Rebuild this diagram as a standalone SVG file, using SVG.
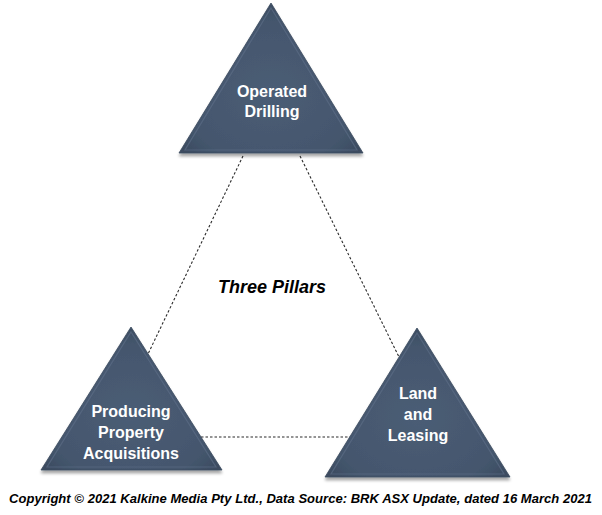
<svg xmlns="http://www.w3.org/2000/svg" width="602" height="515" viewBox="0 0 602 515">
  <defs>
    <radialGradient id="fillG" cx="50%" cy="60%" r="60%">
      <stop offset="0%" stop-color="#4B5D75"/>
      <stop offset="80%" stop-color="#44566D"/>
      <stop offset="100%" stop-color="#3C4C61"/>
    </radialGradient>
    <filter id="sh" x="-10%" y="-10%" width="120%" height="125%">
      <feGaussianBlur in="SourceAlpha" stdDeviation="1.5"/>
      <feOffset dx="0" dy="2.5" result="b"/>
      <feComponentTransfer><feFuncA type="linear" slope="0.35"/></feComponentTransfer>
      <feMerge><feMergeNode/><feMergeNode in="SourceGraphic"/></feMerge>
    </filter>
  </defs>
  <style>
    .tri { fill: url(#fillG); stroke: #3A495D; stroke-width: 0.8; filter: url(#sh); }
    .bevel { fill: none; stroke: #5F7088; stroke-width: 1.2; opacity: 0.6; }
    .lbl { font-family: "Liberation Sans", Arial, sans-serif; font-weight: bold; font-size: 16px; fill: #FFFFFF; text-anchor: middle; }
    .conn { stroke: #2B2B2B; stroke-width: 1.1; stroke-dasharray: 2.5 2; fill: none; }
    .title { font-family: "Liberation Sans", Arial, sans-serif; font-weight: bold; font-style: italic; font-size: 18px; fill: #000000; text-anchor: middle; }
    .copy { font-family: "Liberation Sans", Arial, sans-serif; font-weight: bold; font-style: italic; font-size: 13px; fill: #000000; }
  </style>
  <rect width="602" height="515" fill="#FFFFFF"/>
  <g id="connectors">
    <line class="conn" x1="243" y1="156" x2="148" y2="354"/>
    <line class="conn" x1="300" y1="156" x2="399" y2="357"/>
    <line class="conn" x1="201" y1="437" x2="350" y2="437"/>
  </g>
  <g id="operated-drilling">
    <polygon class="tri" points="271,3 363,153 179,153"/>
    <polygon class="bevel" points="271,8 357,150 185,150"/>
    <text class="lbl" x="272" y="97">Operated</text>
    <text class="lbl" x="272" y="117">Drilling</text>
  </g>
  <g id="producing-property-acquisitions">
    <polygon class="tri" points="131,327 222,470 41,470"/>
    <polygon class="bevel" points="131,332 216,467 47,467"/>
    <text class="lbl" x="131" y="417">Producing</text>
    <text class="lbl" x="131" y="438">Property</text>
    <text class="lbl" x="131" y="459">Acquisitions</text>
  </g>
  <g id="land-and-leasing">
    <polygon class="tri" points="417,328 510,477 325,477"/>
    <polygon class="bevel" points="417,333 504,474 331,474"/>
    <text class="lbl" x="418" y="399">Land</text>
    <text class="lbl" x="418" y="420">and</text>
    <text class="lbl" x="418" y="441">Leasing</text>
  </g>
  <text class="title" x="272" y="293">Three Pillars</text>
  <text class="copy" x="9" y="503" textLength="583" lengthAdjust="spacing">Copyright © 2021 Kalkine Media Pty Ltd., Data Source: BRK ASX Update, dated 16 March 2021</text>
</svg>
